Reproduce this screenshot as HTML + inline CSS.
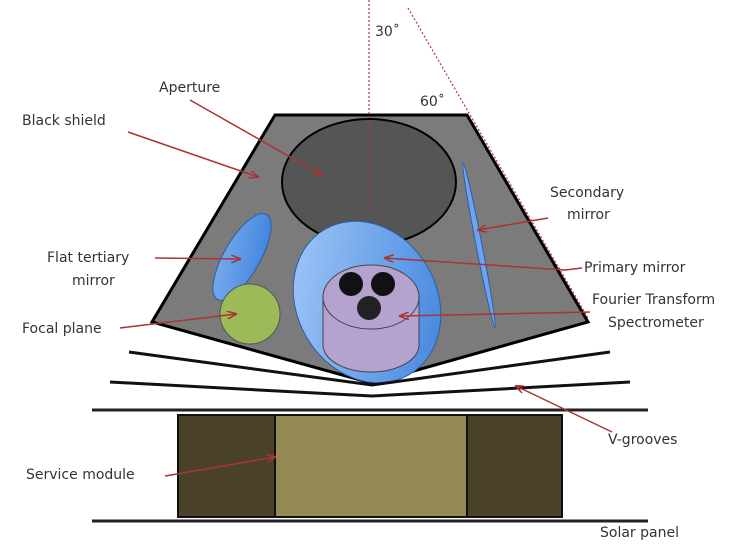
<!DOCTYPE html>
<html><head><style>
html,body{margin:0;padding:0;background:#fff;width:750px;height:557px;overflow:hidden}
svg text{font-family:"DejaVu Sans","Liberation Sans",sans-serif;font-size:14px;fill:#333}
</style></head><body>
<svg width="750" height="557" viewBox="0 0 750 557" xmlns="http://www.w3.org/2000/svg">
<defs>
<marker id="a" markerWidth="10" markerHeight="8" refX="9" refY="4" orient="auto" markerUnits="userSpaceOnUse"><path d="M0,0 L10,4 L0,8" fill="none" stroke="#a33" stroke-width="1.5"/></marker>
<linearGradient id="bl" x1="0" y1="0" x2="1" y2="1"><stop offset="0" stop-color="#a9cdfa"/><stop offset="1" stop-color="#3a7fdc"/></linearGradient>
<linearGradient id="bl2" x1="1" y1="0" x2="0" y2="1"><stop offset="0" stop-color="#3a7fdc"/><stop offset="1" stop-color="#7fb0f0"/></linearGradient>
</defs>
<polygon points="275,115 467,115 588,322 371,383 152,322" fill="#7b7b7b" stroke="#000" stroke-width="3"/>
<ellipse cx="369" cy="182" rx="87" ry="63" fill="#555" stroke="#000" stroke-width="2"/>
<ellipse cx="367" cy="302" rx="70" ry="84" transform="rotate(-30 367 302)" fill="url(#bl)" stroke="#2a5fa8" stroke-width="1"/>
<ellipse cx="242" cy="257" rx="18" ry="49" transform="rotate(30 242 257)" fill="url(#bl2)" stroke="#2a5fa8"/>
<circle cx="250" cy="314" r="30" fill="#9bbb59" stroke="#555"/>
<path d="M323,297 L323,345 A48,27 0 0 0 419,345 L419,297 Z" fill="#b4a2cf" stroke="#444"/>
<ellipse cx="371" cy="297" rx="48" ry="32" fill="#b4a2cf" stroke="#444"/>
<circle cx="351" cy="284" r="12" fill="#111"/>
<circle cx="383" cy="284" r="12" fill="#111"/>
<circle cx="369" cy="308" r="12" fill="#222"/>
<ellipse cx="479" cy="245" rx="3" ry="84" transform="rotate(-11 479 245)" fill="#6fa3ef" stroke="#2a5fa8"/>
<line x1="369" y1="0" x2="369" y2="206" stroke="#b33" stroke-dasharray="2,2" stroke-width="1.2"/>
<line x1="408" y1="8" x2="588" y2="318" stroke="#b33" stroke-dasharray="2,2" stroke-width="1.2"/>
<polyline points="129,352 372,385 610,352" fill="none" stroke="#111" stroke-width="3"/>
<polyline points="110,382 372,396 630,382" fill="none" stroke="#111" stroke-width="3"/>
<line x1="92" y1="410" x2="648" y2="410" stroke="#222" stroke-width="3"/>
<line x1="92" y1="521" x2="648" y2="521" stroke="#222" stroke-width="3"/>
<rect x="178" y="415" width="384" height="102" fill="#4a4228" stroke="#111" stroke-width="2"/>
<rect x="275" y="415" width="192" height="102" fill="#958a55" stroke="#111" stroke-width="2"/>
<g stroke="#a33" stroke-width="1.5" fill="none" marker-end="url(#a)">
<line x1="190" y1="100" x2="322" y2="175"/>
<line x1="128" y1="132" x2="258" y2="177"/>
<line x1="548" y1="218" x2="478" y2="230"/>
<line x1="155" y1="258" x2="240" y2="259"/>
<polyline points="582,268 565,270 385,258"/>
<line x1="120" y1="328" x2="236" y2="314"/>
<line x1="590" y1="312" x2="400" y2="316"/>
<line x1="612" y1="432" x2="516" y2="386"/>
<line x1="165" y1="476" x2="275" y2="457"/>
</g>
<text x="375" y="36">30˚</text>
<text x="420" y="106">60˚</text>
<text x="159" y="92">Aperture</text>
<text x="22" y="125">Black shield</text>
<text x="550" y="197">Secondary</text>
<text x="567" y="219">mirror</text>
<text x="47" y="262">Flat tertiary</text>
<text x="72" y="285">mirror</text>
<text x="584" y="272">Primary mirror</text>
<text x="22" y="333">Focal plane</text>
<text x="592" y="304">Fourier Transform</text>
<text x="608" y="327">Spectrometer</text>
<text x="608" y="444">V-grooves</text>
<text x="26" y="479">Service module</text>
<text x="600" y="537">Solar panel</text>
</svg>
</body></html>
